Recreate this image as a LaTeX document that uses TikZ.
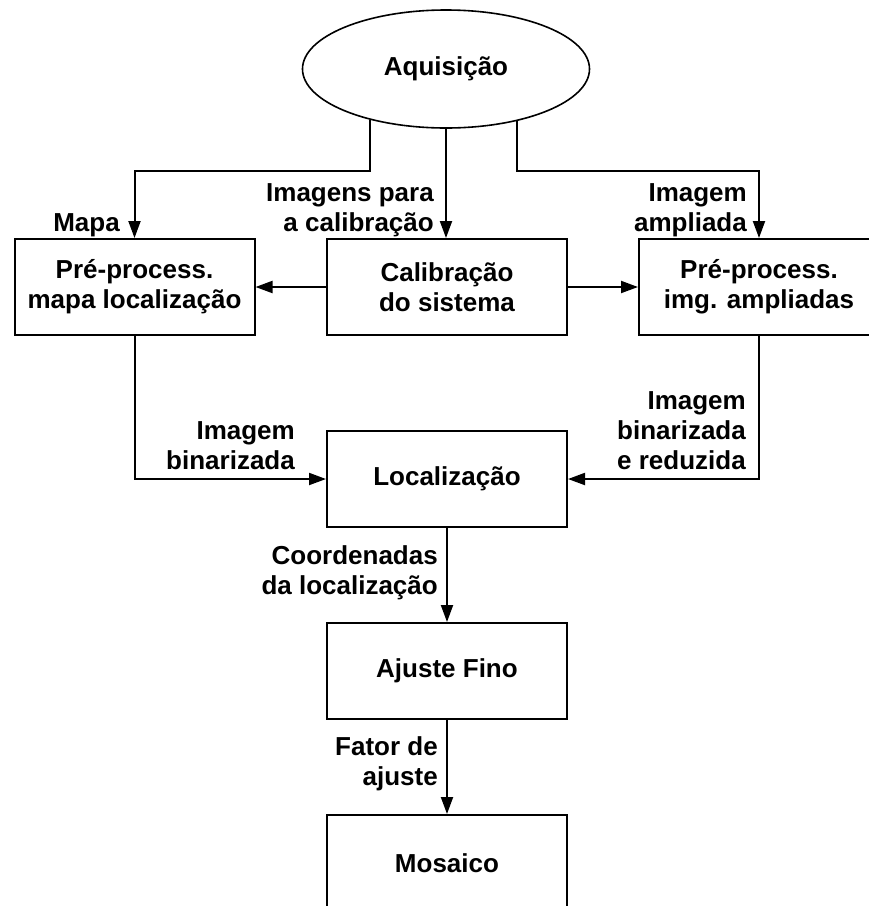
\documentclass[tikz,border=0pt]{standalone}
\usepackage{fontspec}
\setmainfont{Liberation Sans}
\usetikzlibrary{arrows.meta,shapes.geometric}

\begin{document}
\begin{tikzpicture}[x=1pt, y=-1pt,
	box/.style={draw=black, line width=2pt, minimum width=240pt, minimum height=96pt, inner sep=0pt, align=center, font=\bfseries\fontsize{26}{30}\selectfont},
	lbl/.style={anchor=base east, inner sep=0pt, align=right, font=\bfseries\fontsize{26}{30}\selectfont},
	arr/.style={black, line width=2pt, -{Triangle[length=17pt, width=12pt]}}]
	\clip (0,0) rectangle (869,906);
	\node[draw=black, ellipse, line width=1.6pt, minimum width=287pt, minimum height=118pt, inner sep=0pt, font=\bfseries\fontsize{26}{30}\selectfont] (aq) at (446,69) {Aquisição};
	\node[box] (pmap) at (134.5,287) {Pré-process.\\mapa localização};
	\node[box] (calib) at (447,287) {Calibração\\do sistema};
	\node[box] (pimg) at (759,287) {Pré-process.\\img. ampliadas};
	\node[box] (loc) at (447,479) {Localização};
	\node[box] (ajuste) at (447,671) {Ajuste Fino};
	\node[box] (mosaico) at (447,863) {Mosaico};
	\coordinate (kmap) at (134.5,171);
	\coordinate (kamp) at (759,171);
	% ligacoes
	\draw[arr] (aq.214.83) |- (kmap) -- (pmap.north);
	\draw[arr] (aq.south) -- (aq.south |- calib.north);
	\draw[arr] (aq.324.67) |- (kamp) -- (pimg.north);
	\draw[arr] (calib.west) -- (pmap.east);
	\draw[arr] (calib.east) -- (pimg.west);
	\draw[arr] (pmap.south) |- (loc.west);
	\draw[arr] (pimg.south) |- (loc.east);
	\draw[arr] (loc.south) -- (ajuste.north);
	\draw[arr] (ajuste.south) -- (mosaico.north);
	% rotulos
	\node[lbl] (tmapa) at (120,231) {Mapa};
	\node[lbl] (tcal) at (434,231) {Imagens para\\a calibração};
	\node[lbl] (tamp) at (747,231) {Imagem\\ampliada};
	\node[lbl] (tbin) at (295,469) {Imagem\\binarizada};
	\node[lbl] (tred) at (746,469) {Imagem\\binarizada\\e reduzida};
	\node[lbl] (tcoord) at (438,594) {Coordenadas\\da localização};
	\node[lbl] (tfator) at (438,785) {Fator de\\ajuste};
\end{tikzpicture}
\end{document}
